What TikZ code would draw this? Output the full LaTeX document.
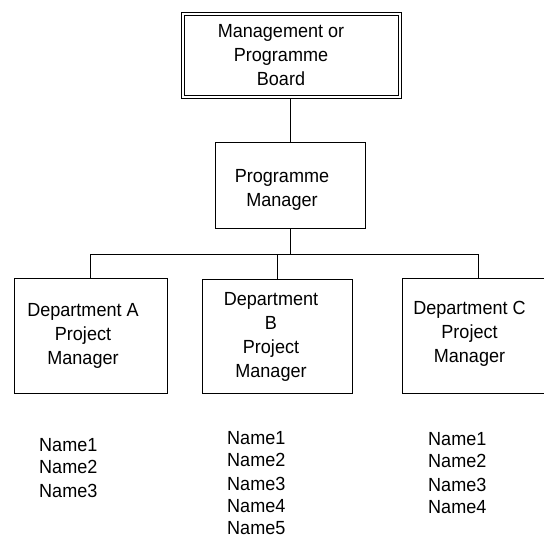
\documentclass[tikz,border=0pt]{standalone}
\usepackage{fontspec}
\setmainfont{Liberation Sans}[FakeStretch=0.95]
\usepackage{tikz}
\tikzset{
    org-box/.style = {draw=black, line width=0.8pt, rectangle, minimum width=152pt, minimum height=115pt, inner sep=0pt},
    board-box/.style = {draw=black, double, double distance=2.3pt, line width=0.7pt, rectangle, minimum width=217.6pt, minimum height=83pt, inner sep=0pt},
    box-text/.style = {align=center, inner sep=0pt, font=\fontsize{19}{24}\selectfont},
    name-list/.style = {align=left, anchor=west, inner sep=0pt, font=\fontsize{19}{22}\selectfont},
    link/.style = {draw=black, line width=0.8pt},
}

\begin{document}
\begin{tikzpicture}[x=1pt, y=-1pt]
\useasboundingbox (0,0) rectangle (544,536);
\node [board-box] (board) at (291.5,55.5) {};
\node [box-text] (board-text) at (281,55) {Management or\\Programme\\Board};
\node [org-box, minimum width=150pt, minimum height=86pt] (pm) at (290,185) {};
\node [box-text] (pm-text) at (282,190) {Programme\\Manager};
\node [org-box, minimum width=153pt] (dept-a) at (90.5,335.5) {};
\node [box-text] (dept-a-text) at (83,336) {Department A\\Project\\Manager};
\node [org-box, minimum width=150pt, minimum height=114pt] (dept-b) at (277,336) {};
\node [box-text] (dept-b-text) at (271,337) {Department\\B\\Project\\Manager};
\node [org-box] (dept-c) at (478,335.5) {};
\node [box-text] (dept-c-text) at (469.5,334) {Department C\\Project\\Manager};
\node [name-list] (names-a) at (39,468) {Name1\\Name2\\[2pt]Name3};
\node [name-list] (names-b) at (227,483) {Name1\\Name2\\[2pt]Name3\\Name4\\Name5};
\node [name-list] (names-c) at (428,473.5) {Name1\\Name2\\[2pt]Name3\\Name4};
\draw [link, shorten >=1.5pt] (pm.north) -- (pm.north |- board.south);
\draw [link] (pm.south) -- ++(0,26) coordinate (bar);
\draw [link] (bar) -| (dept-a.north);
\draw [link] (bar) -| (dept-b.north);
\draw [link] (bar) -| (dept-c.north);
\end{tikzpicture}
\end{document}
